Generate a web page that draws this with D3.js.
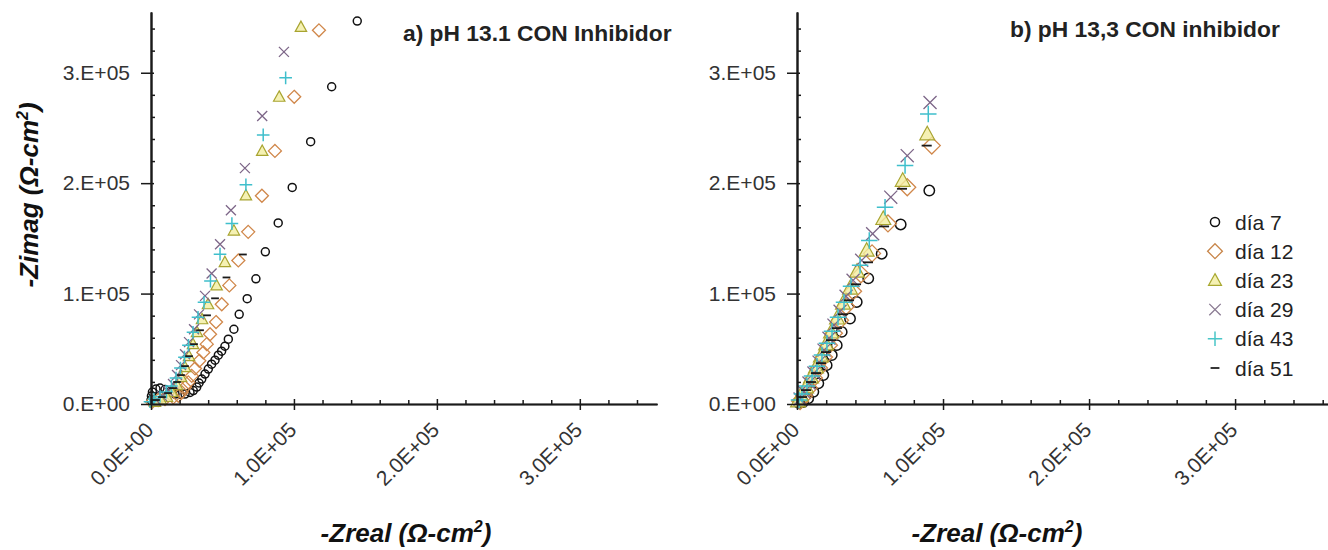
<!DOCTYPE html>
<html>
<head>
<meta charset="utf-8">
<script src="https://cdn.jsdelivr.net/npm/d3@7"></script>
<style>
  html, body { margin: 0; padding: 0; background: #fff; }
  svg { display: block; }
  text { font-family: "Liberation Sans", Arial, sans-serif; }
</style>
</head>
<body>
<svg id="chart" width="1328" height="550"></svg>
<script>
// Nyquist impedance data, [-Zreal, -Zimag] in ohm·cm²
// Panel a) pH 13.1 CON Inhibidor
const a_dia7 = [
  [144300,346800],[126400,287300],[111700,237600],[98800,196100],[89000,164000],
  [80000,137800],[73400,113400],[67300,95400],[61700,81200],[58000,67700],
  [54100,58700],[51700,52300],[49400,47800],[47100,44200],[44800,39700],
  [42400,36100],[40100,31600],[37800,27100],[35500,22600],[33600,19000],
  [32000,15300],[29600,12200],[27300,10400],[23800,9000],[20300,8600],
  [16800,9000],[13300,10800],[9800,13100],[6300,14400],[3500,13500],
  [1000,10800],[300,7200],[0,3600]
];
const a_dia12 = [
  [117500,338400],[100200,278200],[86700,229200],[77600,188600],[68000,155900],
  [61100,130000],[54800,107400],[49500,90300],[45500,74200],[41300,63200],
  [39000,54200],[36600,46700],[33800,39100],[30800,32200],[28500,25500],
  [26100,19600],[23800,15100],[21500,10600],[19100,7500],[15600,6000],
  [9800,4500],[5000,3600],[700,1800]
];
const a_dia23 = [
  [104900,341400],[89700,278200],[77800,229200],[66400,188900],[58000,157000],
  [51700,128400],[45900,107400],[39900,90300],[35700,76700],[32200,65000],
  [29400,54200],[26600,43300],[23800,33400],[21000,24400],[18200,17100],
  [14700,10800],[11200,6300],[7000,3600],[2800,1800]
];
const a_dia29 = [
  [93000,318900],[77800,260800],[65700,213600],[55900,175400],[48300,144700],
  [42400,118200],[37800,97900],[33600,81200],[30100,67700],[26600,56000],
  [23800,45100],[21000,35200],[18200,26200],[15400,18100],[11900,11700],
  [7700,7200],[3500,3600]
];
const a_dia43 = [
  [94200,295400],[78500,243700],[66400,198600],[56600,163400],[48300,135700],
  [41600,111300],[37100,92100],[32900,78500],[29400,65000],[26200,53200],
  [23400,42400],[20600,32500],[17500,23500],[14300,16200],[10800,10800],
  [6300,6800],[2100,4500],[-700,2000]
];
const a_dia51 = [
  [64300,135400],[52800,114600],[44800,95700],[39200,80300],[34300,66800],
  [30100,54200],[26600,43300],[23800,34300],[21000,26200],[18200,19900],
  [15400,14400],[11900,9900],[7700,6300],[3500,3600]
];

// Panel b) pH 13,3 CON inhibidor
const b_dia7 = [
  [90600,193300],[71000,162600],[58000,136100],[48800,113800],[40900,92400],
  [36300,77400],[30600,65300],[27200,53300],[23800,44300],[20300,35200],
  [18000,26200],[14600,18700],[11200,11100],[7700,5100],[4100,1800],[1400,900]
];
const b_dia12 = [
  [92300,234000],[75500,196300],[62300,163500],[51400,136400],[43800,117400],
  [38400,102100],[33600,88500],[29500,75900],[25300,64100],[21900,53300],
  [18500,42500],[15100,32500],[11600,23500],[8200,14500],[4800,7200],[2100,2700]
];
const b_dia23 = [
  [89200,244500],[72400,202400],[59100,167800],[47700,139100],[41100,120100],
  [36300,104800],[31500,91200],[27400,77700],[23300,65000],[19900,54200],
  [16400,43400],[13000,33400],[9600,24400],[6200,15400],[2700,8100],[700,2700]
];
const b_dia29 = [
  [91100,273100],[75500,224900],[64200,187300],[51800,154200],[44300,130100],
  [38400,112000],[33600,97600],[29500,84000],[25300,71400],[21900,59600],
  [18500,48800],[15100,37900],[11600,28000],[8200,19000],[4800,10800],[2100,4500]
];
const b_dia43 = [
  [89900,262600],[74000,215900],[60300,178200],[49500,148100],[43200,125600],
  [37000,106600],[32200,92100],[28100,78600],[24000,65900],[20500,55100],
  [17100,44300],[13700,34300],[10300,25300],[6800,16300],[3400,9000],[1400,3600]
];
const b_dia51 = [
  [88800,234000],[71900,194900],[59600,160800],[48600,128300],[40400,108400],
  [35600,93900],[31500,81300],[27400,68700],[23300,57800],[19900,47000],
  [16400,37000],[13000,28000],[9600,19900],[6200,12600],[3400,6300]
];

// Legend entries and axis ticks
const seriesNames = ["día 7", "día 12", "día 23", "día 29", "día 43", "día 51"];
const majorTicks = [0, 100000, 200000, 300000];
const yTickLabels = ["0.E+00", "1.E+05", "2.E+05", "3.E+05"];
const xTickLabels = ["0.0E+00", "1.0E+05", "2.0E+05", "3.0E+05"];
const titles = ["a) pH 13.1 CON Inhibidor", "b) pH 13,3 CON inhibidor"];

// Marker shapes (custom d3 symbol types)
const shapeCircle = { draw(ctx, size) { const r = Math.sqrt(size / Math.PI); ctx.moveTo(r, 0); ctx.arc(0, 0, r, 0, 2 * Math.PI); } };
const shapeDiamond = { draw(ctx, size) { const h = Math.sqrt(size) * 0.75; ctx.moveTo(0, -h); ctx.lineTo(h, 0); ctx.lineTo(0, h); ctx.lineTo(-h, 0); ctx.closePath(); } };
const shapeTriangle = { draw(ctx, size) { const s = Math.sqrt(size); const h = s * 0.866; ctx.moveTo(0, -h * 0.6); ctx.lineTo(s / 2, h * 0.45); ctx.lineTo(-s / 2, h * 0.45); ctx.closePath(); } };
const shapeTimes = { draw(ctx, size) { const r = Math.sqrt(size) / 2; ctx.moveTo(-r, -r); ctx.lineTo(r, r); ctx.moveTo(r, -r); ctx.lineTo(-r, r); } };
const shapePlus = { draw(ctx, size) { const r = Math.sqrt(size) / 2; ctx.moveTo(-r, 0); ctx.lineTo(r, 0); ctx.moveTo(0, -r); ctx.lineTo(0, r); } };
const shapeDash = { draw(ctx, size) { const r = Math.sqrt(size) / 2; ctx.moveTo(-r, 0); ctx.lineTo(r, 0); } };

const styles = [
  { type: shapeCircle,   size: 50,  stroke: "#111111", fill: "none",    width: 1.5 },
  { type: shapeDiamond,  size: 75,  stroke: "#d0874a", fill: "none",    width: 1.3 },
  { type: shapeTriangle, size: 130, stroke: "#a8a430", fill: "#f3eea0", width: 1.2 },
  { type: shapeTimes,    size: 100, stroke: "#7d6688", fill: "none",    width: 1.3 },
  { type: shapePlus,     size: 160, stroke: "#3fbfcc", fill: "none",    width: 1.5 },
  { type: shapeDash,     size: 60,  stroke: "#1a1a1a", fill: "none",    width: 1.8 }
];

const svg = d3.select("#chart");
const yTop = 12, yBottom = 404;

function drawPanel(opts) {
  const g = svg.append("g");
  const x = d3.scaleLinear().domain([0, opts.xMax]).range([opts.left, opts.right]);
  const y = d3.scaleLinear().domain([0, 355000]).range([yBottom, yTop]);
  const minorY = d3.range(20000, 355000, 20000).filter(v => v % 100000 !== 0);
  const minorX = d3.range(20000, opts.xMax, 20000).filter(v => v % 100000 !== 0);

  // markers
  opts.series.forEach((data, i) => {
    const st = styles[i];
    const sym = d3.symbol().type(st.type).size(st.size * opts.markerScale);
    g.append("g").selectAll("path").data(data).join("path")
      .attr("d", sym)
      .attr("transform", d => `translate(${x(d[0])},${y(d[1])})`)
      .attr("fill", st.fill)
      .attr("fill-opacity", 0.8)
      .attr("stroke", st.stroke)
      .attr("stroke-width", st.width);
  });

  // y axis: labels and outward major ticks
  g.append("g").attr("transform", `translate(${opts.left},0)`)
    .call(d3.axisLeft(y).tickValues(majorTicks).tickFormat((d, i) => yTickLabels[i]).tickSizeInner(10).tickSizeOuter(0).tickPadding(11));
  // inward stubs on major ticks, minor ticks inside
  g.append("g").attr("transform", `translate(${opts.left},0)`)
    .call(d3.axisRight(y).tickValues(majorTicks.slice(1)).tickFormat("").tickSizeInner(3).tickSizeOuter(0));
  g.append("g").attr("transform", `translate(${opts.left},0)`)
    .call(d3.axisRight(y).tickValues(minorY).tickFormat("").tickSizeInner(4).tickSizeOuter(0));

  // x axis
  const xAxis = g.append("g").attr("transform", `translate(0,${yBottom})`)
    .call(d3.axisBottom(x).tickValues(majorTicks).tickFormat((d, i) => xTickLabels[i]).tickSizeInner(6).tickSizeOuter(0));
  g.append("g").attr("transform", `translate(0,${yBottom})`)
    .call(d3.axisTop(x).tickValues(majorTicks).tickFormat("").tickSizeInner(5).tickSizeOuter(0));
  g.append("g").attr("transform", `translate(0,${yBottom})`)
    .call(d3.axisTop(x).tickValues(minorX).tickFormat("").tickSizeInner(4).tickSizeOuter(0));

  xAxis.selectAll(".tick text")
    .attr("text-anchor", "end")
    .attr("transform", "translate(-2,22) rotate(-45)")
    .attr("dy", "0.35em").attr("y", 0).attr("x", 0);

  g.selectAll(".domain").attr("stroke", "#1a1a1a").attr("stroke-width", 1.7);
  g.selectAll(".tick line").attr("stroke", "#1a1a1a").attr("stroke-width", 1.5);
  g.selectAll(".tick text").attr("font-size", 21).attr("fill", "#333").attr("font-family", "Liberation Sans, Arial, sans-serif");

  // panel title
  g.append("text").attr("x", opts.titleX).attr("y", opts.titleY)
    .attr("font-size", 22.8).attr("font-weight", "bold").attr("fill", "#222")
    .text(opts.title);

  // x axis title
  const xt = g.append("text").attr("x", opts.xTitleX).attr("y", 542)
    .attr("text-anchor", "middle").attr("font-size", 26).attr("font-weight", "bold")
    .attr("font-style", "italic").attr("fill", "#111");
  xt.append("tspan").text("-Zreal (Ω-cm");
  xt.append("tspan").attr("dy", -10).attr("font-size", 16).text("2");
  xt.append("tspan").attr("dy", 10).text(")");

  return { x, y };
}

drawPanel({ left: 151, right: 657, xMax: 354000, markerScale: 1,
  series: [a_dia7, a_dia12, a_dia23, a_dia29, a_dia43, a_dia51],
  title: titles[0], titleX: 403, titleY: 41, xTitleX: 406 });
drawPanel({ left: 797, right: 1330, xMax: 365000, markerScale: 1.7,
  series: [b_dia7, b_dia12, b_dia23, b_dia29, b_dia43, b_dia51],
  title: titles[1], titleX: 1010, titleY: 37, xTitleX: 997 });

// y axis title (shared, left)
const yt = svg.append("text").attr("transform", "translate(38,195) rotate(-90)")
  .attr("text-anchor", "middle").attr("font-size", 26).attr("font-weight", "bold")
  .attr("font-style", "italic").attr("fill", "#111");
yt.append("tspan").text("-Zimag (Ω-cm");
yt.append("tspan").attr("dy", -10).attr("font-size", 16).text("2");
yt.append("tspan").attr("dy", 10).text(")");

// legend
const legend = svg.append("g").attr("transform", "translate(1215,222)");
const legendStroke = ["#111111", "#c8864a", "#a8a830", "#8a7a92", "#49c6c8", "#222222"];
seriesNames.forEach((name, i) => {
  const st = styles[i];
  const row = legend.append("g").attr("transform", `translate(0,${i * 29.2})`);
  row.append("path").attr("d", d3.symbol().type(st.type).size(st.size * 1.3)())
    .attr("fill", st.fill).attr("fill-opacity", 0.8).attr("stroke", legendStroke[i]).attr("stroke-width", st.width);
  row.append("text").attr("x", 20).attr("y", 7.5).attr("font-size", 21).attr("fill", "#222").text(name);
});
</script>
</body>
</html>
